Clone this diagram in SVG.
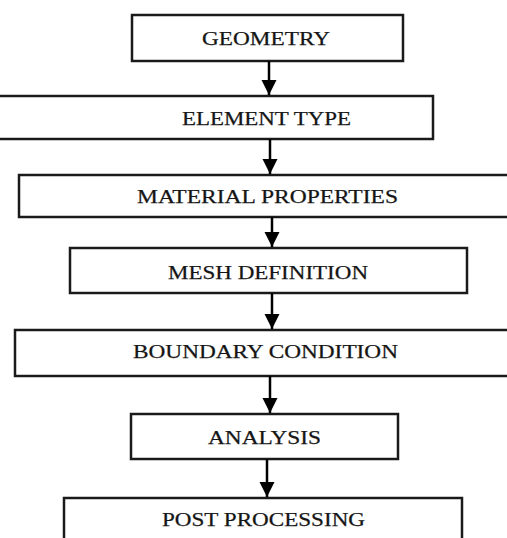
<svg xmlns="http://www.w3.org/2000/svg" width="507" height="538" viewBox="0 0 507 538">
<style>
.box{fill:#fff;stroke:#1a1a1a;stroke-width:2.5}
.lbl{font-family:"Liberation Serif","Times New Roman",serif;font-size:19.5px;fill:#151515;stroke:#151515;stroke-width:0.25;text-anchor:middle}
.conn{stroke:#000;stroke-width:2.5;fill:none}
</style>
<defs>
<marker id="ah" markerUnits="userSpaceOnUse" markerWidth="16" markerHeight="16" refX="15" refY="8" orient="auto">
<path d="M0,0.5 L15,8 L0,15.5 Z" fill="#000"/>
</marker>
</defs>
<rect width="507" height="538" fill="#fff"/>
<g id="n1"><rect class="box" x="132" y="15" width="271" height="46"/><text class="lbl" x="266" y="45" textLength="128" lengthAdjust="spacingAndGlyphs">GEOMETRY</text></g>
<g id="n2"><rect class="box" x="-3" y="96" width="436" height="43"/><text class="lbl" x="266.5" y="125" textLength="169" lengthAdjust="spacingAndGlyphs">ELEMENT TYPE</text></g>
<g id="n3"><rect class="box" x="19" y="175" width="492" height="42"/><text class="lbl" x="267.5" y="203" textLength="261" lengthAdjust="spacingAndGlyphs">MATERIAL PROPERTIES</text></g>
<g id="n4"><rect class="box" x="70" y="248" width="397" height="45"/><text class="lbl" x="268" y="279" textLength="200" lengthAdjust="spacingAndGlyphs">MESH DEFINITION</text></g>
<g id="n5"><rect class="box" x="15" y="330" width="496" height="46"/><text class="lbl" x="265.5" y="358" textLength="265" lengthAdjust="spacingAndGlyphs">BOUNDARY CONDITION</text></g>
<g id="n6"><rect class="box" x="131" y="414" width="267" height="45"/><text class="lbl" x="264.5" y="444" textLength="113" lengthAdjust="spacingAndGlyphs">ANALYSIS</text></g>
<g id="n7"><rect class="box" x="64" y="498" width="398" height="45"/><text class="lbl" x="263.5" y="526" textLength="203" lengthAdjust="spacingAndGlyphs">POST PROCESSING</text></g>
<g id="connectors">
<line class="conn" x1="269" y1="61" x2="269" y2="95" marker-end="url(#ah)"/>
<line class="conn" x1="270" y1="139" x2="270" y2="174" marker-end="url(#ah)"/>
<line class="conn" x1="272" y1="217" x2="272" y2="247" marker-end="url(#ah)"/>
<line class="conn" x1="272" y1="293" x2="272" y2="329" marker-end="url(#ah)"/>
<line class="conn" x1="270" y1="376" x2="270" y2="413" marker-end="url(#ah)"/>
<line class="conn" x1="267" y1="459" x2="267" y2="497" marker-end="url(#ah)"/>
</g>
</svg>
